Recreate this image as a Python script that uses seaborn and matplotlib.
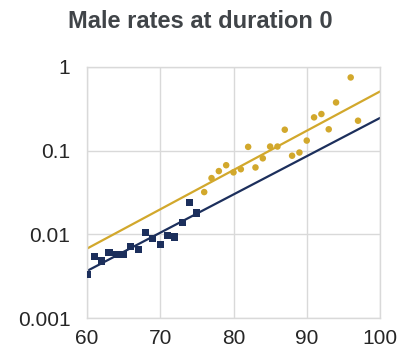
import matplotlib
matplotlib.use("Agg")
import matplotlib.pyplot as plt
import seaborn as sns
import pandas as pd
from matplotlib.ticker import FixedLocator, FixedFormatter, NullLocator

# Observed rates (navy squares)
ages_a = [60, 61, 62, 63, 64, 65, 66, 67, 68, 69, 70, 71, 72, 73, 74, 75]
rates_a = [0.0033, 0.0054, 0.0048, 0.0060, 0.0058, 0.0058, 0.0072, 0.0066,
           0.0105, 0.0089, 0.0075, 0.0097, 0.0093, 0.0140, 0.0243, 0.0180]

# Observed rates (gold circles)
ages_b = [76, 77, 78, 79, 80, 81, 82, 83, 84, 85, 86, 87, 88, 89, 90,
          91, 92, 93, 94, 96, 97]
rates_b = [0.032, 0.047, 0.057, 0.067, 0.055, 0.060, 0.111, 0.063, 0.081,
           0.112, 0.112, 0.178, 0.087, 0.095, 0.132, 0.250, 0.274, 0.180,
           0.377, 0.750, 0.228]

# Fitted lines
fit_ages = [60, 100]
fit_a = [0.00365, 0.246]
fit_b = [0.00675, 0.51]

x_ticks = [60, 70, 80, 90, 100]
y_ticks = [0.001, 0.01, 0.1, 1]
y_labels = ["0.001", "0.01", "0.1", "1"]
title = "Male rates at duration 0"

NAVY = "#1c2f5c"
GOLD = "#d2a82c"

sns.set_theme(style="white")
plt.rcParams["font.family"] = ["Liberation Sans", "DejaVu Sans"]

fig = plt.figure(figsize=(4.0, 3.55), dpi=100)
ax = fig.add_axes([0.2175, 0.1042, 0.7325, 0.7071])

df_a = pd.DataFrame({"age": ages_a, "rate": rates_a})
df_b = pd.DataFrame({"age": ages_b, "rate": rates_b})
df_fa = pd.DataFrame({"age": fit_ages, "rate": fit_a})
df_fb = pd.DataFrame({"age": fit_ages, "rate": fit_b})

sns.lineplot(data=df_fb, x="age", y="rate", color=GOLD, lw=1.6, ax=ax, zorder=2)
sns.lineplot(data=df_fa, x="age", y="rate", color=NAVY, lw=1.6, ax=ax, zorder=2)
sns.scatterplot(data=df_a, x="age", y="rate", marker="s", s=26, color=NAVY,
                edgecolor="none", ax=ax, zorder=3)
sns.scatterplot(data=df_b, x="age", y="rate", marker="o", s=22, color=GOLD,
                edgecolor="none", ax=ax, zorder=3)

ax.set_yscale("log")
ax.set_xlim(60, 100)
ax.set_ylim(0.001, 1)
ax.set_xticks(x_ticks)
ax.set_xticklabels([str(t) for t in x_ticks])
ax.yaxis.set_major_locator(FixedLocator(y_ticks))
ax.yaxis.set_major_formatter(FixedFormatter(y_labels))
ax.yaxis.set_minor_locator(NullLocator())
ax.set_xlabel("")
ax.set_ylabel("")
ax.grid(True, color="#d9d9d9", lw=1.0)
ax.set_axisbelow(True)
for sp in ax.spines.values():
    sp.set_color("#d9d9d9")
    sp.set_linewidth(1.0)
ax.tick_params(axis="both", length=0, labelsize=15, labelcolor="#262626")
ax.tick_params(axis="x", pad=8)
ax.tick_params(axis="y", pad=12)

fig.text(0.5, 0.94, title, ha="center", va="center", fontsize=17,
         fontweight="bold", color="#404448")

fig.savefig("out.png", dpi=100)
